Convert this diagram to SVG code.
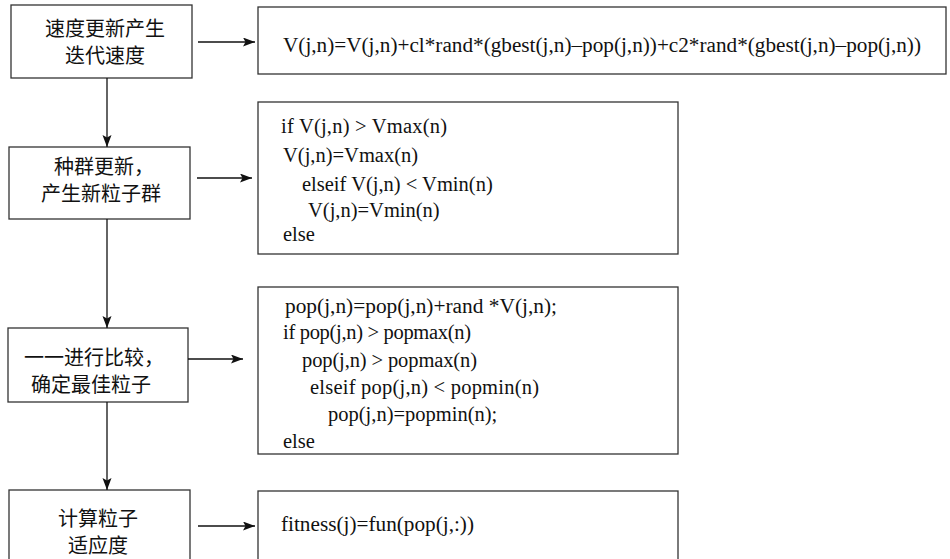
<svg xmlns="http://www.w3.org/2000/svg" width="950" height="559" viewBox="0 0 950 559">
<style>
.box{fill:#fff;stroke:#333;stroke-width:1.3}
.cn{font-family:"Noto Sans CJK SC","Noto Sans CJK JP",sans-serif;font-size:20px;fill:#111;text-anchor:middle}
.en{font-family:"Liberation Serif","Times New Roman",serif;font-size:20.5px;fill:#111}
.conn line{stroke:#111;stroke-width:1.3;fill:none}
</style>
<defs>
<marker id="ah" markerUnits="userSpaceOnUse" markerWidth="14" markerHeight="10" refX="12" refY="4.5" orient="auto">
<path d="M0,0 L12,4.5 L0,9 L2.5,4.5 Z" fill="#111"/>
</marker>
</defs>
<rect width="950" height="559" fill="#fff"/>
<g id="n1"><rect class="box" x="11" y="5" width="181" height="73"/><text class="cn" x="105" y="36">速度更新产生</text><text class="cn" x="105" y="63">迭代速度</text></g>
<g id="n2"><rect class="box" x="258" y="7" width="688" height="67"/><text class="en" x="283" y="52" textLength="638" lengthAdjust="spacingAndGlyphs">V(j,n)=V(j,n)+cl*rand*(gbest(j,n)–pop(j,n))+c2*rand*(gbest(j,n)–pop(j,n))</text></g>
<g id="n3"><rect class="box" x="9" y="147" width="181" height="72"/><text class="cn" x="104" y="174">种群更新，</text><text class="cn" x="101" y="201">产生新粒子群</text></g>
<g id="n4"><rect class="box" x="258" y="102" width="420" height="152"/>
<text class="en" x="281" y="133" textLength="166">if V(j,n) &gt; Vmax(n)</text>
<text class="en" x="283" y="162">V(j,n)=Vmax(n)</text>
<text class="en" x="302" y="191">elseif V(j,n) &lt; Vmin(n)</text>
<text class="en" x="308" y="217">V(j,n)=Vmin(n)</text>
<text class="en" x="283" y="241">else</text></g>
<g id="n5"><rect class="box" x="8" y="328" width="180" height="74"/><text class="cn" x="94" y="365">一一进行比较，</text><text class="cn" x="91" y="392">确定最佳粒子</text></g>
<g id="n6"><rect class="box" x="258" y="287" width="420" height="167"/>
<text class="en" x="285" y="313" textLength="272" lengthAdjust="spacingAndGlyphs">pop(j,n)=pop(j,n)+rand *V(j,n);</text>
<text class="en" x="283" y="339" textLength="188">if pop(j,n) &gt; popmax(n)</text>
<text class="en" x="302" y="367" textLength="175">pop(j,n) &gt; popmax(n)</text>
<text class="en" x="310" y="394" textLength="229">elseif pop(j,n) &lt; popmin(n)</text>
<text class="en" x="328" y="421">pop(j,n)=popmin(n);</text>
<text class="en" x="283" y="448">else</text></g>
<g id="n7"><rect class="box" x="9" y="490" width="181" height="80"/><text class="cn" x="98" y="526">计算粒子</text><text class="cn" x="98" y="553">适应度</text></g>
<g id="n8"><rect class="box" x="258" y="491" width="420" height="80"/><text class="en" x="281" y="531" textLength="193" lengthAdjust="spacingAndGlyphs">fitness(j)=fun(pop(j,:))</text></g>
<g class="conn" id="connectors">
<line x1="198" y1="42" x2="255" y2="42" marker-end="url(#ah)"/>
<line x1="197" y1="178" x2="252" y2="178" marker-end="url(#ah)"/>
<line x1="188" y1="359" x2="243" y2="359" marker-end="url(#ah)"/>
<line x1="198" y1="526" x2="255" y2="526" marker-end="url(#ah)"/>
<line x1="107" y1="78" x2="107" y2="147" marker-end="url(#ah)"/>
<line x1="107" y1="219" x2="107" y2="328" marker-end="url(#ah)"/>
<line x1="107" y1="402" x2="107" y2="490" marker-end="url(#ah)"/>
</g>
</svg>
